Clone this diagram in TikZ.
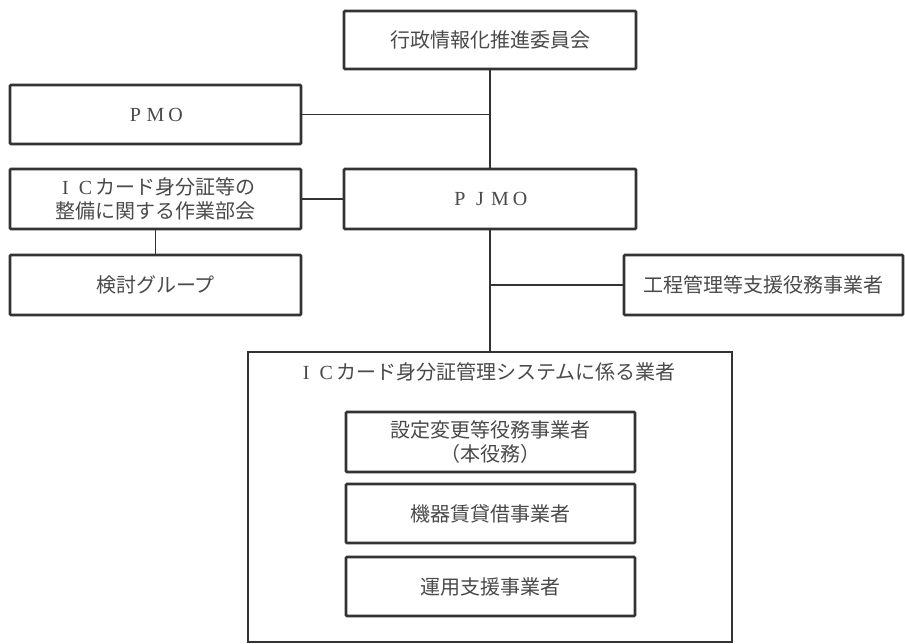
\documentclass[tikz,border=0pt]{standalone}
\usepackage{fontspec}
\newfontfamily\jpfont{Noto Sans CJK JP}
\newfontfamily\latinserif{Liberation Serif}
\newcommand{\fwl}[1]{\makebox[20pt][c]{\latinserif #1}}
\definecolor{frame}{HTML}{333333}
\definecolor{txt}{HTML}{4A4A4A}
\begin{document}
\begin{tikzpicture}[x=1pt,y=-1pt,
  orgbox/.style={draw=frame, line width=2.8pt, rounded corners=1pt, fill=white,
    minimum width=291pt, minimum height=59pt, inner sep=0pt, align=center,
    text=txt, font=\jpfont\fontsize{20}{24}\selectfont},
  groupbox/.style={draw=frame, line width=2pt, inner sep=0pt,
    minimum width=484pt, minimum height=290pt},
  link/.style={draw=frame, line width=1.3pt},
  lbl/.style={text=txt, font=\jpfont\fontsize{20}{24}\selectfont, inner sep=0pt}]
\useasboundingbox (0,0) rectangle (905,644);
\fill[white] (0,0) rectangle (905,644);

\node[groupbox] (big) at (490,497) {};
\node[lbl] (bigtitle) at (486,372) {\fwl{I}\fwl{C}カード身分証管理システムに係る業者};

\node[orgbox, minimum width=292pt, minimum height=58pt] (com) at (490,40) {行政情報化推進委員会};
\node[orgbox] (pmo) at (155.5,114.5) {\fwl{P}\fwl{M}\fwl{O}};
\node[orgbox, minimum height=60pt] (tf) at (155.5,199) {\fwl{I}\fwl{C}カード身分証等の\\整備に関する作業部会};
\node[orgbox, minimum width=292pt, minimum height=60pt] (pjmo) at (490,199) {\fwl{P}\fwl{J}\fwl{M}\fwl{O}};
\node[orgbox, minimum height=60pt] (ken) at (155.5,285) {検討グループ};
\node[orgbox, minimum width=279pt, minimum height=60pt] (kou) at (763.5,285) {工程管理等支援役務事業者};

\node[orgbox, minimum width=289pt, minimum height=60pt] (b1) at (490.5,442) {設定変更等役務事業者\\（本役務）};
\node[orgbox, minimum width=289pt] (b2) at (490.5,513.5) {機器賃貸借事業者};
\node[orgbox, minimum width=289pt] (b3) at (490.5,586.5) {運用支援事業者};

\draw[link] (com.south) -- (pjmo.north);
\draw[link] (pmo.east) -- (pmo.east -| com.south);
\draw[link] (tf.east) -- (pjmo.west);
\draw[link] (tf.south) -- (ken.north);
\draw[link] (pjmo.south) -- (big.north);
\draw[link] (kou.west) -- (kou.west -| pjmo.south);
\end{tikzpicture}
\end{document}
